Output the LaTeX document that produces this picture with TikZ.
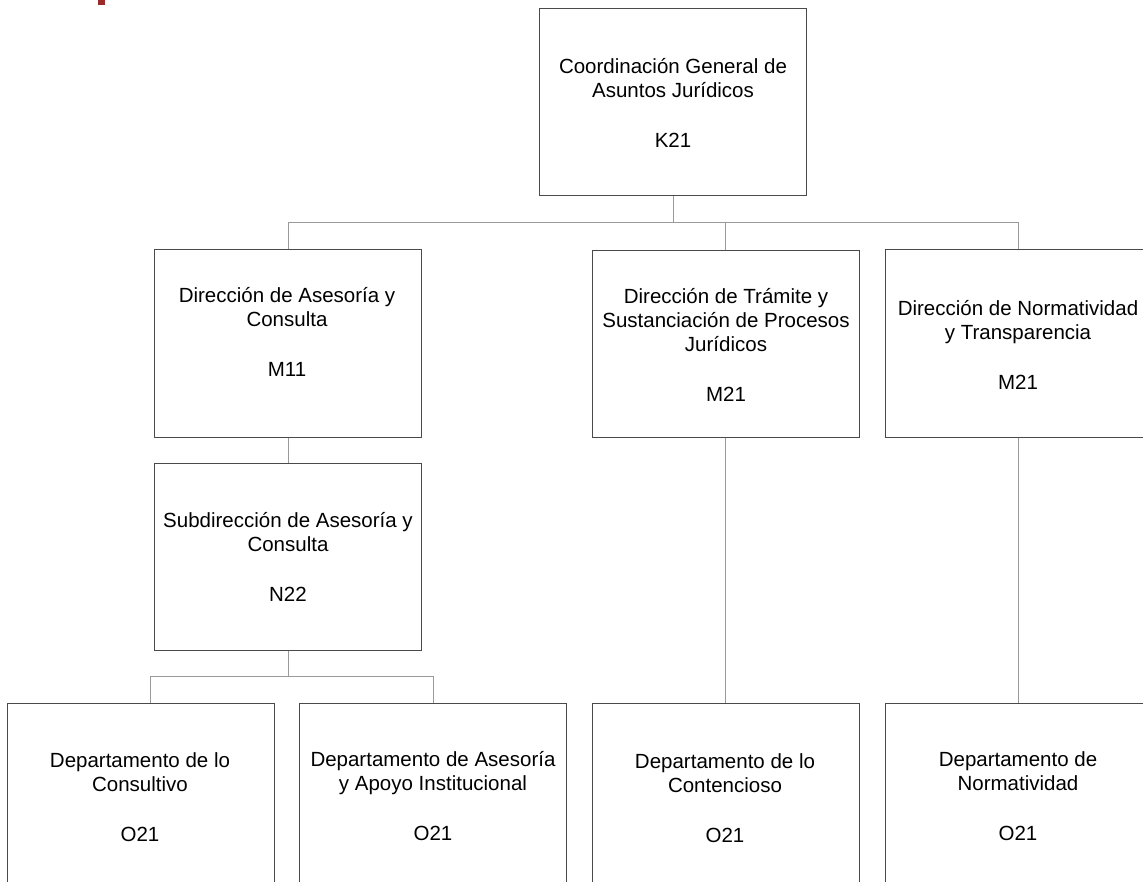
\documentclass[tikz,border=0pt]{standalone}
\usepackage{fontspec}
\setmainfont{Liberation Sans}
\definecolor{boxline}{HTML}{4A4A4A}
\definecolor{connline}{HTML}{9A9A9A}
\definecolor{logored}{HTML}{9B2A2A}
\begin{document}
\begin{tikzpicture}[x=1pt,y=-1pt,
  orgbox/.style={draw=boxline,line width=1pt,inner sep=0pt,minimum width=267pt,minimum height=187pt},
  lbl/.style={align=center,inner sep=0pt,font=\fontsize{20.5pt}{24pt}\selectfont},
  conn/.style={draw=connline,line width=1pt}]
\clip (0,0) rectangle (1143,882);
\fill[white] (0,0) rectangle (1143,882);
\fill[logored] (98,0) rectangle (105,5);
% boxes
\node[orgbox] (k21) at (673,102.5) {};
\node[orgbox] (m11) at (288,343.5) {};
\node[orgbox] (tra) at (725.5,344) {};
\node[orgbox] (nt) at (1018.5,343.5) {};
\node[orgbox] (n22) at (288,556.5) {};
\node[orgbox] (cons) at (141,796.5) {};
\node[orgbox] (ases) at (433,796.5) {};
\node[orgbox] (cont) at (725.5,796.5) {};
\node[orgbox] (nor) at (1018.5,796.5) {};
% labels
\node[lbl] (k21t) at (673,103) {Coordinación General de\\Asuntos Jurídicos\\[26pt]K21};
\node[lbl] (m11t) at (287,331.5) {Dirección de Asesoría y\\Consulta\\[26pt]M11};
\node[lbl] (trat) at (726,345) {Dirección de Trámite y\\Sustanciación de Procesos\\Jurídicos\\[26pt]M21};
\node[lbl] (ntt) at (1018,344.5) {Dirección de Normatividad\\y Transparencia\\[26pt]M21};
\node[lbl] (n22t) at (288,557) {Subdirección de Asesoría y\\Consulta\\[26pt]N22};
\node[lbl] (const) at (140,797) {Departamento de lo\\Consultivo\\[26pt]O21};
\node[lbl] (asest) at (433,796.5) {Departamento de Asesoría\\y Apoyo Institucional\\[26pt]O21};
\node[lbl] (contt) at (725,798.5) {Departamento de lo\\Contencioso\\[26pt]O21};
\node[lbl] (nort) at (1018,796.5) {Departamento de\\Normatividad\\[26pt]O21};
% connectors
\coordinate (h1) at (673,223);
\draw[conn] (k21.south) -- (h1);
\draw[conn] (h1) -| (m11.north);
\draw[conn] (h1) -| (tra.north);
\draw[conn] (h1) -| (nt.north);
\draw[conn] (m11.south) -- (n22.north);
\coordinate (h2) at (288,676);
\draw[conn] (n22.south) -- (h2);
\draw[conn] (h2) -| ([xshift=9pt]cons.north);
\draw[conn] (h2) -| (ases.north);
\draw[conn] (tra.south) -- (cont.north);
\draw[conn] (nt.south) -- (nor.north);
\end{tikzpicture}
\end{document}
